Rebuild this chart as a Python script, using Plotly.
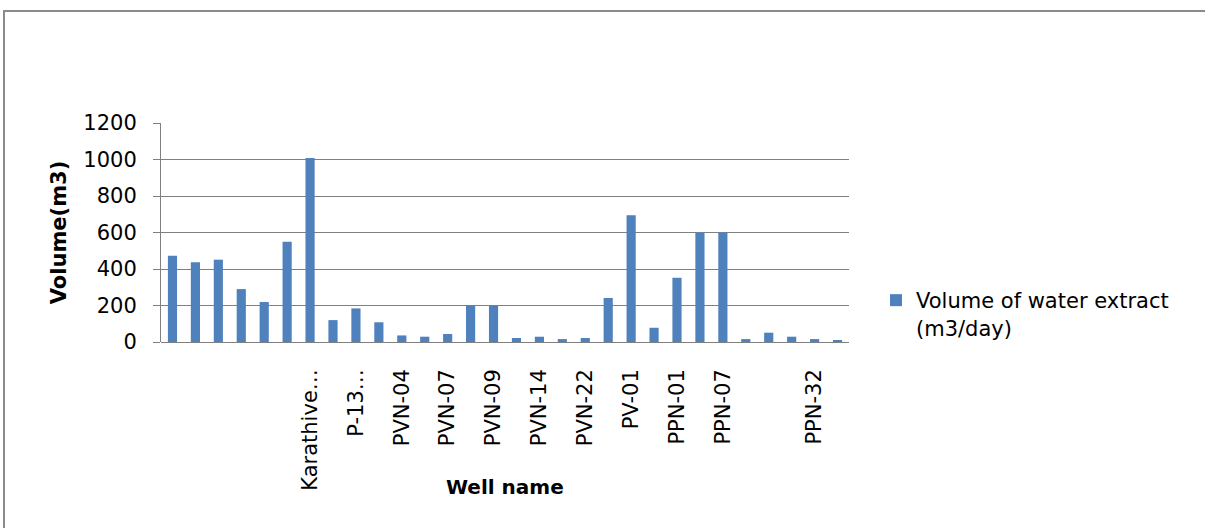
import plotly.graph_objects as go

# ---- data ----
well_labels = ["", "", "", "", "", "", "Karathive…", "", "P-13…", "",
               "PVN-04", "", "PVN-07", "", "PVN-09", "", "PVN-14", "", "PVN-22", "",
               "PV-01", "", "PPN-01", "", "PPN-07", "", "", "", "PPN-32", ""]
volumes = [472, 437, 451, 290, 219, 549, 1008, 120, 184, 108,
           36, 29, 44, 200, 200, 22, 29, 16, 22, 241,
           695, 78, 352, 600, 600, 16, 51, 29, 16, 9]
y_ticks = [0, 200, 400, 600, 800, 1000, 1200]
series_name = "Volume of water extract<br>(m3/day)"
x_title = "Well name"
y_title = "Volume(m3)"

W, H = 1205, 528
L, R, T, B = 161, 849, 123, 342
pw, ph = R - L, B - T

def px(x):
    return (x - L) / pw

def py(y):
    return (B - y) / ph

positions = list(range(len(volumes)))
grid = "#808080"
font_fam = "DejaVu Sans"

fig = go.Figure()
fig.add_trace(go.Bar(
    x=positions, y=volumes, name=series_name,
    marker=dict(color="#4F81BD", line=dict(width=0)),
    width=0.4, showlegend=True,
))

fig.update_layout(
    width=W, height=H,
    margin=dict(l=L, r=W - R, t=T, b=H - B, autoexpand=False),
    paper_bgcolor="white", plot_bgcolor="white",
    font=dict(family=font_fam, color="#000000", size=21),
    showlegend=True,
    legend=dict(
        x=px(876), xanchor="left", y=py(280), yanchor="top",
        font=dict(family=font_fam, size=21, color="#000000"),
        valign="top", bgcolor="rgba(0,0,0,0)", itemwidth=30,
    ),
    xaxis=dict(
        range=[-0.5, len(volumes) - 0.5],
        tickmode="array",
        tickvals=positions[::2],
        ticktext=well_labels[::2],
        tickangle=-90,
        ticks="", showgrid=False, zeroline=False, showline=False,
        tickfont=dict(family=font_fam, size=21, color="#000000"),
        ticklabelstandoff=22,
        automargin=False,
    ),
    yaxis=dict(
        range=[0, 1200],
        tickmode="array", tickvals=y_ticks,
        showgrid=True, gridcolor=grid, gridwidth=1,
        zeroline=True, zerolinecolor=grid, zerolinewidth=1,
        showline=True, linecolor=grid, linewidth=1,
        ticks="outside", ticklen=7, tickcolor=grid, tickwidth=1,
        tickfont=dict(family=font_fam, size=21, color="#000000"),
        ticklabelstandoff=12,
        automargin=False,
        title=dict(text="<b>" + y_title + "</b>", font=dict(family=font_fam, size=21, color="#000000"),
                   standoff=10),
    ),
    annotations=[dict(
        text="<b>" + x_title + "</b>", xref="paper", yref="paper",
        x=0.5, y=py(487), xanchor="center", yanchor="middle", showarrow=False,
        font=dict(family=font_fam, size=20, color="#000000"),
    )],
    shapes=[dict(
        type="rect", xref="paper", yref="paper",
        x0=px(4), x1=px(1215), y0=py(540), y1=py(11),
        line=dict(color="#8A8A8A", width=2), fillcolor="rgba(0,0,0,0)", layer="below",
    )],
)

fig.write_html("out.html")
